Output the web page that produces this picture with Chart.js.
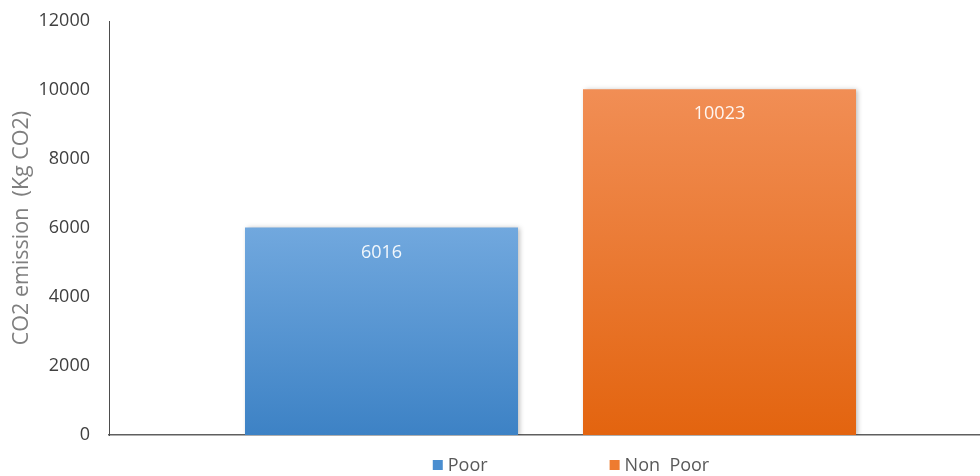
<!DOCTYPE html>
<html>
<head>
<meta charset="utf-8">
<script src="https://cdn.jsdelivr.net/npm/chart.js@4/dist/chart.umd.min.js"></script>
<style>
  html, body { margin: 0; padding: 0; background: #ffffff; overflow: hidden; }
  #wrap { width: 980px; height: 476px; overflow: hidden; position: relative; }
  canvas { display: block; }
</style>
</head>
<body>
<div id="wrap"><canvas id="chart" width="992" height="476"></canvas></div>
<script>
// Emission values per household group
const categories = [''];
const seriesNames = ['Poor', 'Non  Poor'];
const poorValues = [6016];
const nonPoorValues = [10023];
const yTickValues = [0, 2000, 4000, 6000, 8000, 10000, 12000];
const yAxisTitle = 'CO2 emission  (Kg CO2)';

const FONT = "'Open Sans', 'DejaVu Sans', sans-serif";
const PAD_LEFT = 9;
const AXIS_X = 109;

// Vertical gradient running from the top of each bar down to the baseline
function barGradient(topColor, bottomColor) {
  return (ctx) => {
    const chart = ctx.chart;
    if (!chart.chartArea || ctx.type !== 'data') return bottomColor;
    const y = chart.scales.y;
    const yTop = y.getPixelForValue(ctx.raw);
    const yBase = y.getPixelForValue(0);
    const g = chart.ctx.createLinearGradient(0, yTop, 0, yBase);
    g.addColorStop(0, topColor);
    g.addColorStop(1, bottomColor);
    return g;
  };
}

// Soft drop shadow behind the bars
const barShadow = {
  id: 'barShadow',
  beforeDatasetDraw(chart) {
    const c = chart.ctx;
    c.save();
    c.shadowColor = 'rgba(0,0,0,0.28)';
    c.shadowBlur = 5;
    c.shadowOffsetX = 2;
    c.shadowOffsetY = 1;
  },
  afterDatasetDraw(chart) {
    chart.ctx.restore();
  }
};

// Value printed inside the top of each bar
const valueLabels = {
  id: 'valueLabels',
  afterDatasetsDraw(chart) {
    const c = chart.ctx;
    c.save();
    c.font = '18px ' + FONT;
    c.fillStyle = 'rgba(255,255,255,0.92)';
    c.textAlign = 'center';
    c.textBaseline = 'middle';
    chart.data.datasets.forEach((ds, i) => {
      const meta = chart.getDatasetMeta(i);
      meta.data.forEach((bar, j) => {
        c.fillText(String(ds.data[j]), bar.x, bar.y + 25);
      });
    });
    c.restore();
  }
};

// Legend row under the axis: square swatch followed by the series name
const bottomLegend = {
  id: 'bottomLegend',
  afterDraw(chart, args, opts) {
    const c = chart.ctx;
    c.save();
    c.font = '18px ' + FONT;
    c.textBaseline = 'middle';
    const items = chart.data.datasets.map(ds => ({
      text: ds.label, color: ds.legendColor,
      w: opts.box + opts.textGap + c.measureText(ds.label).width
    }));
    const total = items.reduce((s, it) => s + it.w, 0) + opts.spacing * (items.length - 1);
    let x = opts.centerX - total / 2;
    items.forEach(it => {
      c.fillStyle = it.color;
      c.fillRect(x, opts.y - opts.box / 2, opts.box, opts.box);
      c.fillStyle = '#595959';
      c.fillText(it.text, x + opts.box + opts.textGap, opts.y + 1);
      x += it.w + opts.spacing;
    });
    c.restore();
  }
};

new Chart(document.getElementById('chart'), {
  type: 'bar',
  data: {
    labels: categories,
    datasets: [
      {
        label: seriesNames[0],
        data: poorValues,
        backgroundColor: barGradient('#71a8de', '#3d82c5'),
        legendColor: '#4a8ed0',
        categoryPercentage: 0.7656,
        barPercentage: 0.8077
      },
      {
        label: seriesNames[1],
        data: nonPoorValues,
        backgroundColor: barGradient('#f18e55', '#e3640f'),
        legendColor: '#ee7b30',
        categoryPercentage: 0.7656,
        barPercentage: 0.8077
      }
    ]
  },
  options: {
    responsive: false,
    animation: false,
    devicePixelRatio: 1,
    layout: { padding: { top: 21, right: 0, bottom: 41, left: PAD_LEFT } },
    plugins: {
      legend: { display: false },
      tooltip: { enabled: false },
      bottomLegend: { centerX: 571, y: 465, box: 10, textGap: 5, spacing: 122 }
    },
    scales: {
      x: {
        grid: { display: false, drawTicks: false },
        ticks: { display: false },
        border: { display: true, color: '#5f5f5f', width: 1.5 }
      },
      y: {
        min: 0,
        max: 12000,
        afterBuildTicks(scale) { scale.ticks = yTickValues.map(v => ({ value: v })); },
        afterFit(scale) {
          scale.width = AXIS_X - PAD_LEFT;
          scale.paddingTop = 0;
          scale.paddingBottom = 0;
        },
        grid: { display: false, drawTicks: false },
        border: { display: true, color: '#4d4d4d', width: 1 },
        ticks: {
          padding: 19,
          color: '#404040',
          font: { family: FONT, size: 18 },
          callback: (v) => String(v)
        },
        title: {
          display: true,
          text: yAxisTitle,
          color: '#7f7f7f',
          font: { family: FONT, size: 21.5 },
          padding: { top: 0, bottom: 4 }
        }
      }
    }
  },
  plugins: [barShadow, valueLabels, bottomLegend]
});
</script>
</body>
</html>
